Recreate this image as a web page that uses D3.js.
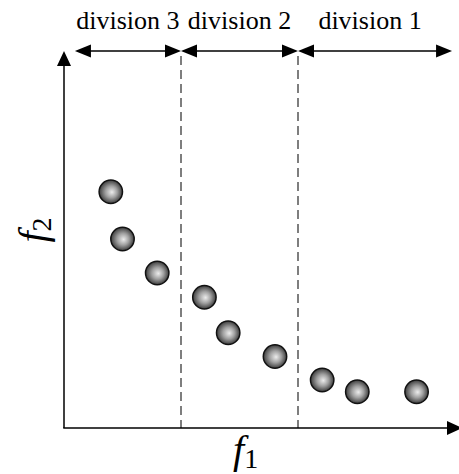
<!DOCTYPE html>
<html>
<head>
<meta charset="utf-8">
<script src="https://cdn.jsdelivr.net/npm/d3@7"></script>
<style>
  html, body { margin: 0; padding: 0; background: #fff; }
  svg { display: block; }
  text { font-family: "Liberation Serif", "Times New Roman", serif; fill: #000; }
</style>
</head>
<body>
<svg id="chart" width="459" height="474"></svg>
<script>
// Objective values of the solutions (normalised f1, f2)
const f1Values = [0.12, 0.15, 0.239, 0.36, 0.421, 0.541, 0.662, 0.752, 0.904];
const f2Values = [0.625, 0.50, 0.41, 0.346, 0.252, 0.189, 0.127, 0.096, 0.096];

// Division boundaries along f1 and their labels
const divisionEdges = [0.028, 0.30, 0.60, 0.995];
const divisionLabels = ["division 3", "division 2", "division 1"];

const svg = d3.select("#chart");

const x = d3.scaleLinear().domain([0, 1]).range([64, 454]);
const y = d3.scaleLinear().domain([0, 1]).range([428, 50]);

// Shaded sphere gradient
const defs = svg.append("defs");
const grad = defs.append("radialGradient")
  .attr("id", "ball")
  .attr("cx", "50%").attr("cy", "50%").attr("r", "50%")
  .attr("fx", "55%").attr("fy", "52%");
grad.append("stop").attr("offset", "0%").attr("stop-color", "#ececec");
grad.append("stop").attr("offset", "50%").attr("stop-color", "#a0a0a0");
grad.append("stop").attr("offset", "100%").attr("stop-color", "#3c3c3c");

// Arrow head path helper: tip at (tx, ty), pointing in direction (dx, dy)
function head(tx, ty, dx, dy, len, half) {
  const bx = tx - dx * len, by = ty - dy * len;
  const px = -dy * half, py = dx * half;
  return `M${tx},${ty}L${bx + px},${by + py}L${bx - px},${by - py}Z`;
}

// Dashed division boundaries
svg.selectAll("line.div")
  .data(divisionEdges.slice(1, -1))
  .enter().append("line")
  .attr("class", "div")
  .attr("x1", d => x(d)).attr("x2", d => x(d))
  .attr("y1", 56).attr("y2", y(0))
  .attr("stroke", "#3a3a3a").attr("stroke-width", 1.3)
  .attr("stroke-dasharray", "9,5");

// Axes
const axes = svg.append("g");
axes.append("line")
  .attr("x1", x(0)).attr("x2", x(0))
  .attr("y1", y(0)).attr("y2", 60)
  .attr("stroke", "#000").attr("stroke-width", 1.5);
axes.append("path").attr("d", head(x(0), 51, 0, -1, 15, 7)).attr("fill", "#000");
axes.append("line")
  .attr("x1", x(0) - 0.75).attr("x2", 452)
  .attr("y1", y(0)).attr("y2", y(0))
  .attr("stroke", "#000").attr("stroke-width", 1.5);
axes.append("path").attr("d", head(462, y(0), 1, 0, 15, 7)).attr("fill", "#000");

// Division span arrows
const spanY = 51;
const spans = divisionLabels.map((label, i) => ({
  label, a: divisionEdges[i], b: divisionEdges[i + 1]
}));
const sg = svg.selectAll("g.span").data(spans).enter().append("g").attr("class", "span");
sg.append("line")
  .attr("x1", d => x(d.a) + 8).attr("x2", d => x(d.b) - 8)
  .attr("y1", spanY).attr("y2", spanY)
  .attr("stroke", "#000").attr("stroke-width", 1.5);
sg.append("path").attr("d", d => head(x(d.a), spanY, -1, 0, 16, 6.5)).attr("fill", "#000");
sg.append("path").attr("d", d => head(x(d.b), spanY, 1, 0, 16, 6.5)).attr("fill", "#000");
sg.append("text")
  .attr("x", (d, i) => (x(d.a) + x(d.b)) / 2 - (i === 2 ? 5 : 0))
  .attr("y", 29)
  .attr("text-anchor", "middle")
  .attr("font-size", 26)
  .text(d => d.label);

// Solution points
svg.selectAll("circle.pt")
  .data(f1Values.map((v, i) => ({ f1: v, f2: f2Values[i] })))
  .enter().append("circle")
  .attr("class", "pt")
  .attr("cx", d => x(d.f1)).attr("cy", d => y(d.f2))
  .attr("r", 11.7)
  .attr("fill", "url(#ball)")
  .attr("stroke", "#111").attr("stroke-width", 1.5);

// Axis titles
const t1 = svg.append("text").attr("x", 233).attr("y", 463).attr("font-size", 40);
t1.append("tspan").attr("font-style", "italic").text("f");
t1.append("tspan").attr("font-size", 28).attr("dy", 5).text("1");

const t2 = svg.append("text")
  .attr("transform", "translate(46,230) rotate(-90)")
  .attr("text-anchor", "middle").attr("font-size", 40);
t2.append("tspan").attr("font-style", "italic").text("f");
t2.append("tspan").attr("font-size", 28).attr("dy", 5).text("2");
</script>
</body>
</html>
